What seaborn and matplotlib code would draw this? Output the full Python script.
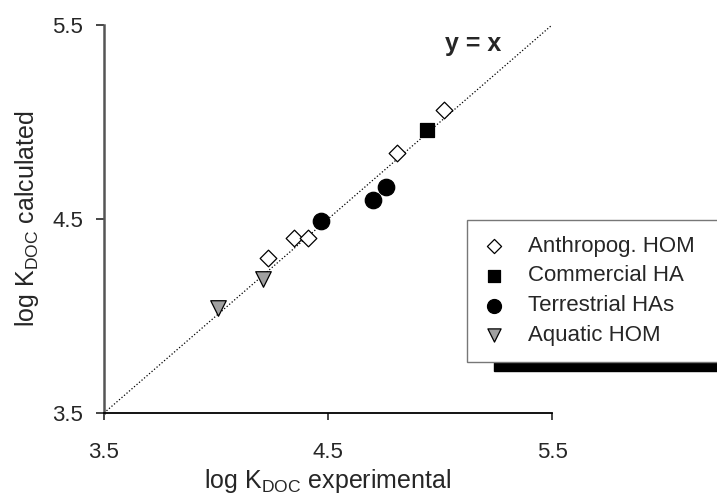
import matplotlib
matplotlib.use("Agg")
import pandas as pd
import seaborn as sns
import matplotlib.pyplot as plt

# values
anthro_x = [4.23, 4.35, 4.41, 4.81, 5.02]
anthro_y = [4.30, 4.40, 4.40, 4.84, 5.06]
comm_x = [4.94]
comm_y = [4.96]
terr_x = [4.47, 4.70, 4.76]
terr_y = [4.49, 4.60, 4.665]
aqua_x = [4.01, 4.21]
aqua_y = [4.04, 4.19]

line_x = [3.5, 5.5]
ticks = [3.5, 4.5, 5.5]

groups = [
    ("Anthropog. HOM", anthro_x, anthro_y, "D", 72, "white"),
    ("Commercial HA", comm_x, comm_y, "s", 100, "black"),
    ("Terrestrial HAs", terr_x, terr_y, "o", 140, "black"),
    ("Aquatic HOM", aqua_x, aqua_y, "v", 125, "#a0a0a0"),
]

sns.set_style("ticks")
plt.rcParams["font.family"] = ["Liberation Sans", "DejaVu Sans"]
plt.rcParams["mathtext.fontset"] = "custom"
plt.rcParams["mathtext.rm"] = "Liberation Sans"

fig = plt.figure(figsize=(7.17, 4.97), dpi=100)
ax = fig.add_axes([104 / 717, 84 / 497, 448 / 717, 388 / 497])

ax.plot(line_x, line_x, linestyle=":", color="black", lw=0.9, zorder=1)

for name, xs, ys, mk, sz, fc in groups:
    df = pd.DataFrame({"x": xs, "y": ys})
    sns.scatterplot(data=df, x="x", y="y", marker=mk, s=sz, color=fc,
                    edgecolor="black", linewidth=0.9, label=name, ax=ax, zorder=3)

ax.text(5.15, 5.40, "y = x", fontsize=18, fontweight="bold", ha="center", va="center")

ax.set_xlim(3.5, 5.5)
ax.set_ylim(3.5, 5.5)
ax.set_xticks(ticks)
ax.set_yticks(ticks)
ax.set_xticklabels([f"{t}" for t in ticks])
ax.set_yticklabels([f"{t}" for t in ticks])
ax.tick_params(axis="x", length=5, width=1.2, pad=16, labelsize=16, direction="out")
ax.tick_params(axis="y", length=6, width=1.2, pad=9, labelsize=16, direction="out")

sns.despine(ax=ax)
ax.spines["left"].set_color("#555555")
ax.spines["left"].set_linewidth(1.8)
ax.spines["bottom"].set_color("black")
ax.spines["bottom"].set_linewidth(1.3)

ax.set_xlabel(r"log K$_{\mathregular{DOC}}$ experimental", fontsize=18)
ax.set_ylabel(r"log K$_{\mathregular{DOC}}$ calculated", fontsize=18)
ax.xaxis.set_label_coords(0.5, -0.14)
ax.yaxis.set_label_coords(-0.14, 0.5)

leg = ax.legend(loc="upper left", bbox_to_anchor=(467 / 717, 1 - 362 / 497, 0.4, 142 / 497),
                bbox_transform=fig.transFigure, mode="expand", borderaxespad=0,
                fontsize=16, frameon=True, fancybox=False, borderpad=0.7,
                handlelength=1.0, handletextpad=1.05, labelspacing=0.4,
                markerscale=0.85,
                shadow={"ox": 19.5, "oy": -6.5, "color": "black", "alpha": 1})
leg.get_frame().set_edgecolor("#777777")
leg.get_frame().set_linewidth(1.0)
leg.get_frame().set_alpha(1)

fig.savefig("out.png", dpi=100)
